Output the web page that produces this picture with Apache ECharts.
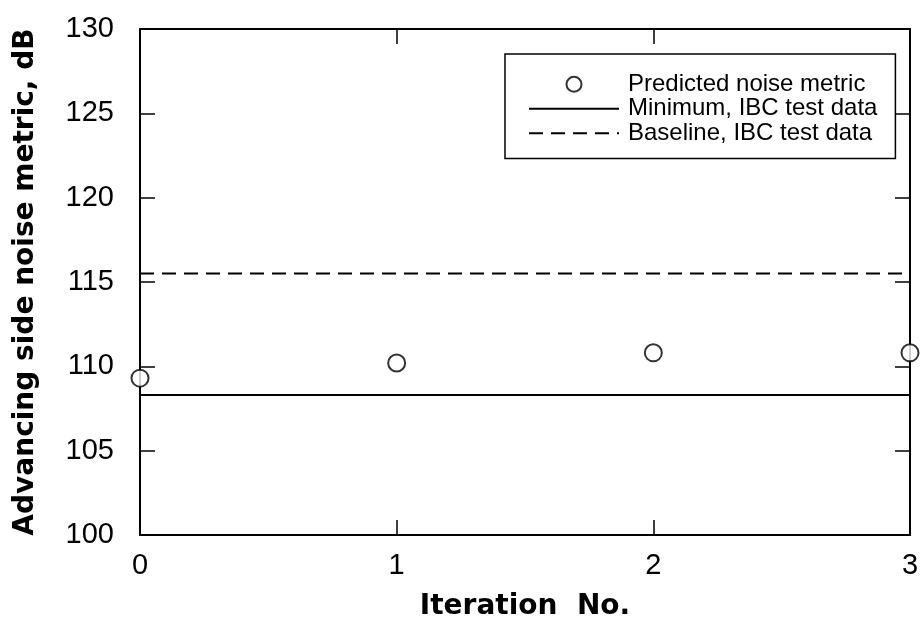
<!DOCTYPE html>
<html>
<head>
<meta charset="utf-8">
<script src="https://cdn.jsdelivr.net/npm/echarts@6/dist/echarts.min.js"></script>
<style>
  html, body { margin: 0; padding: 0; background: #fff; }
  #chart { width: 921px; height: 622px; }
</style>
</head>
<body>
<div id="chart"></div>
<script>
// Iteration numbers and predicted advancing-side noise metric (dB)
const iterations = [0, 1, 2, 3];
const predictedNoise = [109.3, 110.2, 110.8, 110.8];
// Reference levels from IBC test data (dB)
const minimumIBC = 108.3;
const baselineIBC = 115.5;
// Axis ranges and tick spacing
const xTicks = [0, 1, 2, 3];
const yTicks = [100, 105, 110, 115, 120, 125, 130];

const seriesNames = ['Predicted noise metric', 'Minimum, IBC test data', 'Baseline, IBC test data'];

const xMin = xTicks[0], xMax = xTicks[xTicks.length - 1];
const yMin = yTicks[0], yMax = yTicks[yTicks.length - 1];

const labelFont = { fontFamily: 'Liberation Sans', fontSize: 29, color: '#000' };
const titleFont = { fontFamily: 'DejaVu Sans', fontWeight: 'bold', fontSize: 28, color: '#000' };
const frameLine = { show: true, onZero: false, lineStyle: { color: '#000', width: 2 } };
const inTicks = { show: true, inside: true, length: 15, lineStyle: { color: '#000', width: 1.5 } };
// legend line icons: hide the marker that line series add to their icon
const hiddenMarker = { color: 'rgba(0,0,0,0)', borderColor: 'rgba(0,0,0,0)', borderWidth: 0 };

const chart = echarts.init(document.getElementById('chart'), null, { renderer: 'canvas' });

chart.setOption({
  animation: false,
  backgroundColor: '#fff',
  grid: { left: 140, right: 11, top: 29, bottom: 87, containLabel: false, outerBoundsMode: 'none' },
  legend: {
    orient: 'vertical',
    left: 505,
    top: 54,
    padding: [18, 18, 13, 23],
    itemGap: 0,
    itemWidth: 90,
    itemHeight: 15,
    borderColor: '#000',
    borderWidth: 1.5,
    textStyle: { fontFamily: 'Liberation Sans', fontSize: 24, color: '#000', lineHeight: 24.5, padding: [0, 0, 0, 4] },
    data: [
      { name: seriesNames[0] },
      { name: seriesNames[1], itemStyle: hiddenMarker },
      { name: seriesNames[2], itemStyle: hiddenMarker }
    ]
  },
  xAxis: [
    {
      type: 'value', min: xMin, max: xMax, interval: 1, position: 'bottom',
      name: 'Iteration  No.', nameLocation: 'middle', nameGap: 58,
      nameTextStyle: titleFont,
      axisLine: frameLine, axisTick: inTicks,
      axisLabel: Object.assign({ margin: 16 }, labelFont),
      splitLine: { show: false }
    },
    {
      type: 'value', min: xMin, max: xMax, interval: 1, position: 'top',
      axisLine: frameLine, axisTick: inTicks,
      axisLabel: { show: false }, splitLine: { show: false }
    }
  ],
  yAxis: [
    {
      type: 'value', min: yMin, max: yMax, interval: 5, position: 'left',
      name: 'Advancing side noise metric, dB', nameLocation: 'middle', nameGap: 100,
      nameRotate: 90, nameTextStyle: titleFont,
      axisLine: frameLine, axisTick: inTicks,
      axisLabel: Object.assign({ margin: 26, padding: [0, 0, 14, 0] }, labelFont),
      splitLine: { show: false }
    },
    {
      type: 'value', min: yMin, max: yMax, interval: 5, position: 'right',
      axisLine: frameLine, axisTick: inTicks,
      axisLabel: { show: false }, splitLine: { show: false }
    }
  ],
  series: [
    {
      name: seriesNames[0],
      type: 'scatter',
      symbol: 'emptyCircle',
      symbolSize: 17,
      itemStyle: { color: '#000', borderColor: '#000', borderWidth: 1.5 },
      data: iterations.map((it, i) => [it, predictedNoise[i]]),
      z: 5
    },
    {
      name: seriesNames[1],
      type: 'line',
      symbol: 'none',
      lineStyle: { color: '#000', width: 2, type: 'solid' },
      itemStyle: { color: '#000' },
      data: [[xMin, minimumIBC], [xMax, minimumIBC]]
    },
    {
      name: seriesNames[2],
      type: 'line',
      symbol: 'none',
      lineStyle: { color: '#000', width: 2, type: [14, 8] },
      itemStyle: { color: '#000' },
      data: [[xMin, baselineIBC], [xMax, baselineIBC]]
    }
  ]
});
</script>
</body>
</html>
